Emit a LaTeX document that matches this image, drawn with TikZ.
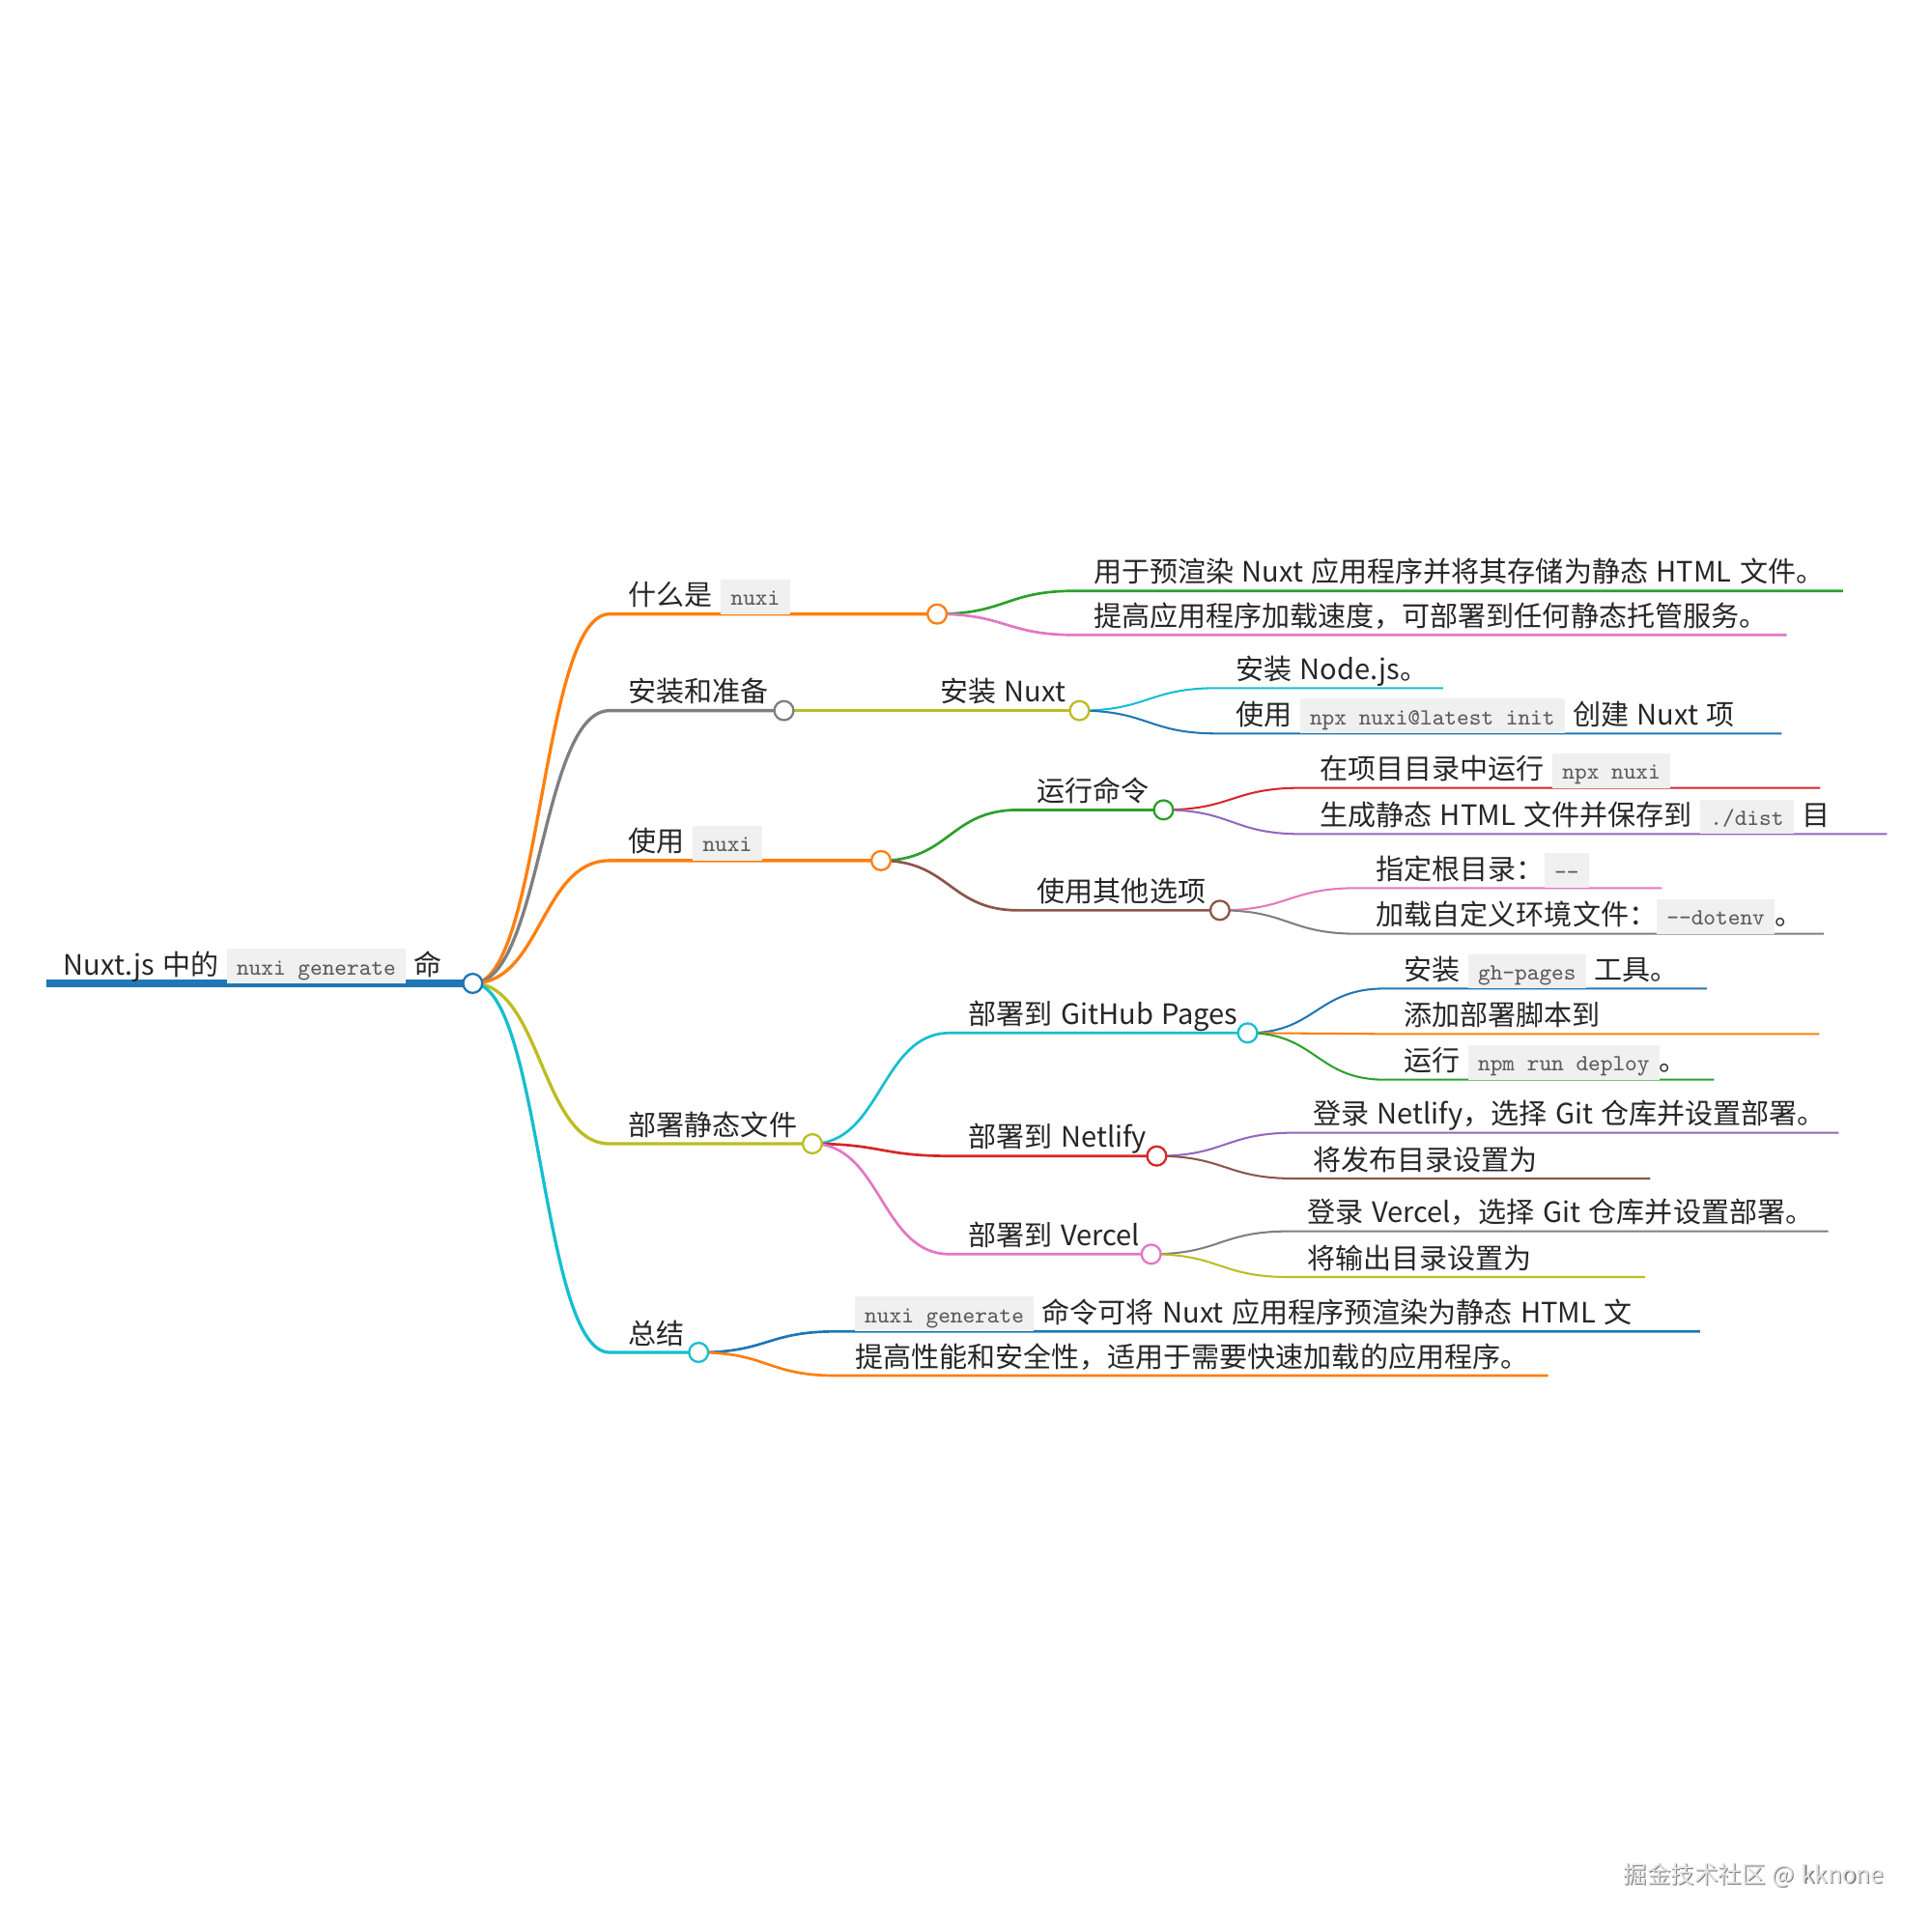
\documentclass[tikz,border=0pt]{standalone}
\usepackage{fontspec}
\setmainfont{Noto Sans CJK SC}[WordSpace=1.3]
\usepackage{xcolor}
\definecolor{cblue}{HTML}{1F77B4}
\definecolor{corange}{HTML}{FF7F0E}
\definecolor{cgreen}{HTML}{2CA02C}
\definecolor{cred}{HTML}{D62728}
\definecolor{cpurple}{HTML}{9467BD}
\definecolor{cbrown}{HTML}{8C564B}
\definecolor{cpink}{HTML}{E377C2}
\definecolor{cgray}{HTML}{7F7F7F}
\definecolor{colive}{HTML}{BCBD22}
\definecolor{ccyan}{HTML}{17BECF}
\definecolor{textc}{HTML}{262626}
\definecolor{codebg}{HTML}{F0F0F0}
\definecolor{codefg}{HTML}{5C5C5C}
\definecolor{wmfg}{HTML}{E4E4E4}
\definecolor{wmsh}{HTML}{7A7A7A}
\newcommand\cbox[1]{{\setlength{\fboxsep}{0pt}\colorbox{codebg}{\hspace{4pt}\rule[-3.5pt]{0pt}{14pt}\textcolor{codefg}{\fontsize{9.43}{11}\ttfamily #1}\hspace{4pt}}}}
\begin{document}
\begin{tikzpicture}[x=0.5pt,y=-0.5pt,
  txt/.style={inner sep=0pt, anchor=base west, text=textc, font=\fontsize{11.35}{13}\selectfont},
  dot/.style={circle, minimum size=7.74pt, inner sep=0pt, fill=white, line width=0.9pt},
  lroot/.style={line width=2.85pt},
  lone/.style={line width=1.3pt},
  ltwo/.style={line width=1.05pt},
  lthree/.style={line width=0.8pt},
  wmtext/.style={inner sep=0pt, anchor=base west, text=wmfg, font=\fontsize{9.57}{11}\selectfont},
  wmshadow/.style={inner sep=0pt, anchor=base west, text=wmsh, font=\fontsize{9.57}{11}\selectfont},
]
\useasboundingbox (0,0) rectangle (1562.5,1562.5);

% ---------- coordinates ----------
\coordinate (s-root) at (37.4,795.3);
\coordinate (p-root) at (382.3,795.3);
% level 1
\coordinate (s-A) at (493,496.6);   \coordinate (p-A) at (757.9,496.6);
\coordinate (s-B) at (493,574.7);   \coordinate (p-B) at (634,574.7);
\coordinate (s-C) at (493,696);     \coordinate (p-C) at (712.5,696);
\coordinate (s-D) at (493,925);     \coordinate (p-D) at (657,925);
\coordinate (s-E) at (493,1093.75); \coordinate (p-E) at (565,1093.75);
% level 2
\coordinate (s-A1) at (869,477.9);  \coordinate (e-A1) at (1490.5,477.9);
\coordinate (s-A2) at (869,513.5);  \coordinate (e-A2) at (1445,513.5);
\coordinate (s-B1) at (745,574.7);  \coordinate (p-B1) at (873,574.7);
\coordinate (s-C1) at (823.5,655);  \coordinate (p-C1) at (941,655);
\coordinate (s-C2) at (823.5,736.2);\coordinate (p-C2) at (986.6,736.2);
\coordinate (s-D1) at (768,835.4);  \coordinate (p-D1) at (1009,835.4);
\coordinate (s-D2) at (768,934.9);  \coordinate (p-D2) at (935.5,934.9);
\coordinate (s-D3) at (768,1014.3); \coordinate (p-D3) at (931,1014.3);
\coordinate (s-E1) at (676,1076.8); \coordinate (e-E1) at (1374.8,1076.8);
\coordinate (s-E2) at (676,1112.5); \coordinate (e-E2) at (1252,1112.5);
% level 3
\coordinate (s-B1a) at (984,556.5);   \coordinate (e-B1a) at (1167,556.5);
\coordinate (s-B1b) at (984,593.2);   \coordinate (e-B1b) at (1440.8,593.2);
\coordinate (s-C1a) at (1052,637.2);  \coordinate (e-C1a) at (1472.2,637.2);
\coordinate (s-C1b) at (1052,674.5);  \coordinate (e-C1b) at (1526,674.5);
\coordinate (s-C2a) at (1097.6,718.2);\coordinate (e-C2a) at (1344,718.2);
\coordinate (s-C2b) at (1097.6,755.2);\coordinate (e-C2b) at (1474.8,755.2);
\coordinate (s-D1a) at (1120,799.5);  \coordinate (e-D1a) at (1380.3,799.5);
\coordinate (s-D1b) at (1120,836.2);  \coordinate (e-D1b) at (1471.3,836.2);
\coordinate (s-D1c) at (1120,873.2);  \coordinate (e-D1c) at (1386.3,873.2);
\coordinate (s-D2a) at (1046.5,916.1);\coordinate (e-D2a) at (1487,916.1);
\coordinate (s-D2b) at (1046.5,953.1);\coordinate (e-D2b) at (1334.6,953.1);
\coordinate (s-D3a) at (1042,995.8);  \coordinate (e-D3a) at (1478.5,995.8);
\coordinate (s-D3b) at (1042,1032.8); \coordinate (e-D3b) at (1330.3,1032.8);

% ---------- connectors and underlines ----------
\draw[lroot, cblue] (s-root) -- (p-root);
\draw[lone, corange] (p-root) .. controls +(55.5,0) and +(-55.5,0) .. (s-A) -- (p-A);
\draw[lone, cgray]   (p-root) .. controls +(55.5,0) and +(-55.5,0) .. (s-B) -- (p-B);
\draw[lone, corange] (p-root) .. controls +(55.5,0) and +(-55.5,0) .. (s-C) -- (p-C);
\draw[lone, colive]  (p-root) .. controls +(55.5,0) and +(-55.5,0) .. (s-D) -- (p-D);
\draw[lone, ccyan]   (p-root) .. controls +(55.5,0) and +(-55.5,0) .. (s-E) -- (p-E);

\draw[ltwo, cgreen]  (p-A) .. controls +(55.5,0) and +(-55.5,0) .. (s-A1) -- (e-A1);
\draw[ltwo, cpink]   (p-A) .. controls +(55.5,0) and +(-55.5,0) .. (s-A2) -- (e-A2);
\draw[ltwo, colive]  (p-B) -- (s-B1) -- (p-B1);
\draw[ltwo, cgreen]  (p-C) .. controls +(55.5,0) and +(-55.5,0) .. (s-C1) -- (p-C1);
\draw[ltwo, cbrown]  (p-C) .. controls +(55.5,0) and +(-55.5,0) .. (s-C2) -- (p-C2);
\draw[ltwo, ccyan]   (p-D) .. controls +(55.5,0) and +(-55.5,0) .. (s-D1) -- (p-D1);
\draw[ltwo, cred]    (p-D) .. controls +(55.5,0) and +(-55.5,0) .. (s-D2) -- (p-D2);
\draw[ltwo, cpink]   (p-D) .. controls +(55.5,0) and +(-55.5,0) .. (s-D3) -- (p-D3);
\draw[ltwo, cblue]   (p-E) .. controls +(55.5,0) and +(-55.5,0) .. (s-E1) -- (e-E1);
\draw[ltwo, corange] (p-E) .. controls +(55.5,0) and +(-55.5,0) .. (s-E2) -- (e-E2);

\draw[lthree, ccyan]   (p-B1) .. controls +(55.5,0) and +(-55.5,0) .. (s-B1a) -- (e-B1a);
\draw[lthree, cblue]   (p-B1) .. controls +(55.5,0) and +(-55.5,0) .. (s-B1b) -- (e-B1b);
\draw[lthree, cred]    (p-C1) .. controls +(55.5,0) and +(-55.5,0) .. (s-C1a) -- (e-C1a);
\draw[lthree, cpurple] (p-C1) .. controls +(55.5,0) and +(-55.5,0) .. (s-C1b) -- (e-C1b);
\draw[lthree, cpink]   (p-C2) .. controls +(55.5,0) and +(-55.5,0) .. (s-C2a) -- (e-C2a);
\draw[lthree, cgray]   (p-C2) .. controls +(55.5,0) and +(-55.5,0) .. (s-C2b) -- (e-C2b);
\draw[lthree, cblue]   (p-D1) .. controls +(55.5,0) and +(-55.5,0) .. (s-D1a) -- (e-D1a);
\draw[lthree, corange] (p-D1) .. controls +(55.5,0) and +(-55.5,0) .. (s-D1b) -- (e-D1b);
\draw[lthree, cgreen]  (p-D1) .. controls +(55.5,0) and +(-55.5,0) .. (s-D1c) -- (e-D1c);
\draw[lthree, cpurple] (p-D2) .. controls +(55.5,0) and +(-55.5,0) .. (s-D2a) -- (e-D2a);
\draw[lthree, cbrown]  (p-D2) .. controls +(55.5,0) and +(-55.5,0) .. (s-D2b) -- (e-D2b);
\draw[lthree, cgray]   (p-D3) .. controls +(55.5,0) and +(-55.5,0) .. (s-D3a) -- (e-D3a);
\draw[lthree, colive]  (p-D3) .. controls +(55.5,0) and +(-55.5,0) .. (s-D3b) -- (e-D3b);

% ---------- circles ----------
\node[dot, draw=cblue]   (d-root) at (p-root) {};
\node[dot, draw=corange] (d-A) at (p-A) {};
\node[dot, draw=cgray]   (d-B) at (p-B) {};
\node[dot, draw=corange] (d-C) at (p-C) {};
\node[dot, draw=colive]  (d-D) at (p-D) {};
\node[dot, draw=ccyan]   (d-E) at (p-E) {};
\node[dot, draw=colive]  (d-B1) at (p-B1) {};
\node[dot, draw=cgreen]  (d-C1) at (p-C1) {};
\node[dot, draw=cbrown]  (d-C2) at (p-C2) {};
\node[dot, draw=ccyan]   (d-D1) at (p-D1) {};
\node[dot, draw=cred]    (d-D2) at (p-D2) {};
\node[dot, draw=cpink]   (d-D3) at (p-D3) {};

% ---------- texts ----------
\node[txt] (t-root) at (51,788.3) {Nuxt.js 中的 \cbox{nuxi generate} 命};
\node[txt] (t-A) at (508,489.6) {什么是 \cbox{nuxi}};
\node[txt] (t-B) at (508,567.7) {安装和准备};
\node[txt] (t-C) at (508,689) {使用 \cbox{nuxi}};
\node[txt] (t-D) at (508,918) {部署静态文件};
\node[txt] (t-E) at (508,1086.75) {总结};

\node[txt] (t-A1) at (884,470.9) {用于预渲染 Nuxt 应用程序并将其存储为静态 HTML 文件。};
\node[txt] (t-A2) at (884,506.5) {提高应用程序加载速度，可部署到任何静态托管服务。};
\node[txt] (t-B1) at (760,567.7) {安装 Nuxt};
\node[txt] (t-C1) at (838.5,648) {运行命令};
\node[txt] (t-C2) at (838.5,729.2) {使用其他选项};
\node[txt] (t-D1) at (783,828.4) {部署到 GitHub Pages};
\node[txt] (t-D2) at (783,927.9) {部署到 Netlify};
\node[txt] (t-D3) at (783,1007.3) {部署到 Vercel};
\node[txt] (t-E1) at (691,1069.8) {\cbox{nuxi generate} 命令可将 Nuxt 应用程序预渲染为静态 HTML 文};
\node[txt] (t-E2) at (691,1105.5) {提高性能和安全性，适用于需要快速加载的应用程序。};

\node[txt] (t-B1a) at (999,549.5) {安装 Node.js。};
\node[txt] (t-B1b) at (999,586.2) {使用 \cbox{npx nuxi@latest init} 创建 Nuxt 项};
\node[txt] (t-C1a) at (1067,630.2) {在项目目录中运行 \cbox{npx nuxi}};
\node[txt] (t-C1b) at (1067,667.5) {生成静态 HTML 文件并保存到 \cbox{./dist} 目};
\node[txt] (t-C2a) at (1112.6,711.2) {指定根目录：\cbox{-\kern0pt-}};
\node[txt] (t-C2b) at (1112.6,748.2) {加载自定义环境文件：\cbox{-\kern0pt-dotenv}。};
\node[txt] (t-D1a) at (1135,792.5) {安装 \cbox{gh-pages} 工具。};
\node[txt] (t-D1b) at (1135,829.2) {添加部署脚本到};
\node[txt] (t-D1c) at (1135,866.2) {运行 \cbox{npm run deploy}。};
\node[txt] (t-D2a) at (1061.5,909.1) {登录 Netlify，选择 Git 仓库并设置部署。};
\node[txt] (t-D2b) at (1061.5,946.1) {将发布目录设置为};
\node[txt] (t-D3a) at (1057,988.8) {登录 Vercel，选择 Git 仓库并设置部署。};
\node[txt] (t-D3b) at (1057,1025.8) {将输出目录设置为};

% ---------- watermark ----------
\node[wmshadow] (wm-s) at (1313.4,1523.6) {掘金技术社区 @ kknone};
\node[wmtext] (wm) at (1312.5,1522.7) {掘金技术社区 @ kknone};
\end{tikzpicture}
\end{document}
